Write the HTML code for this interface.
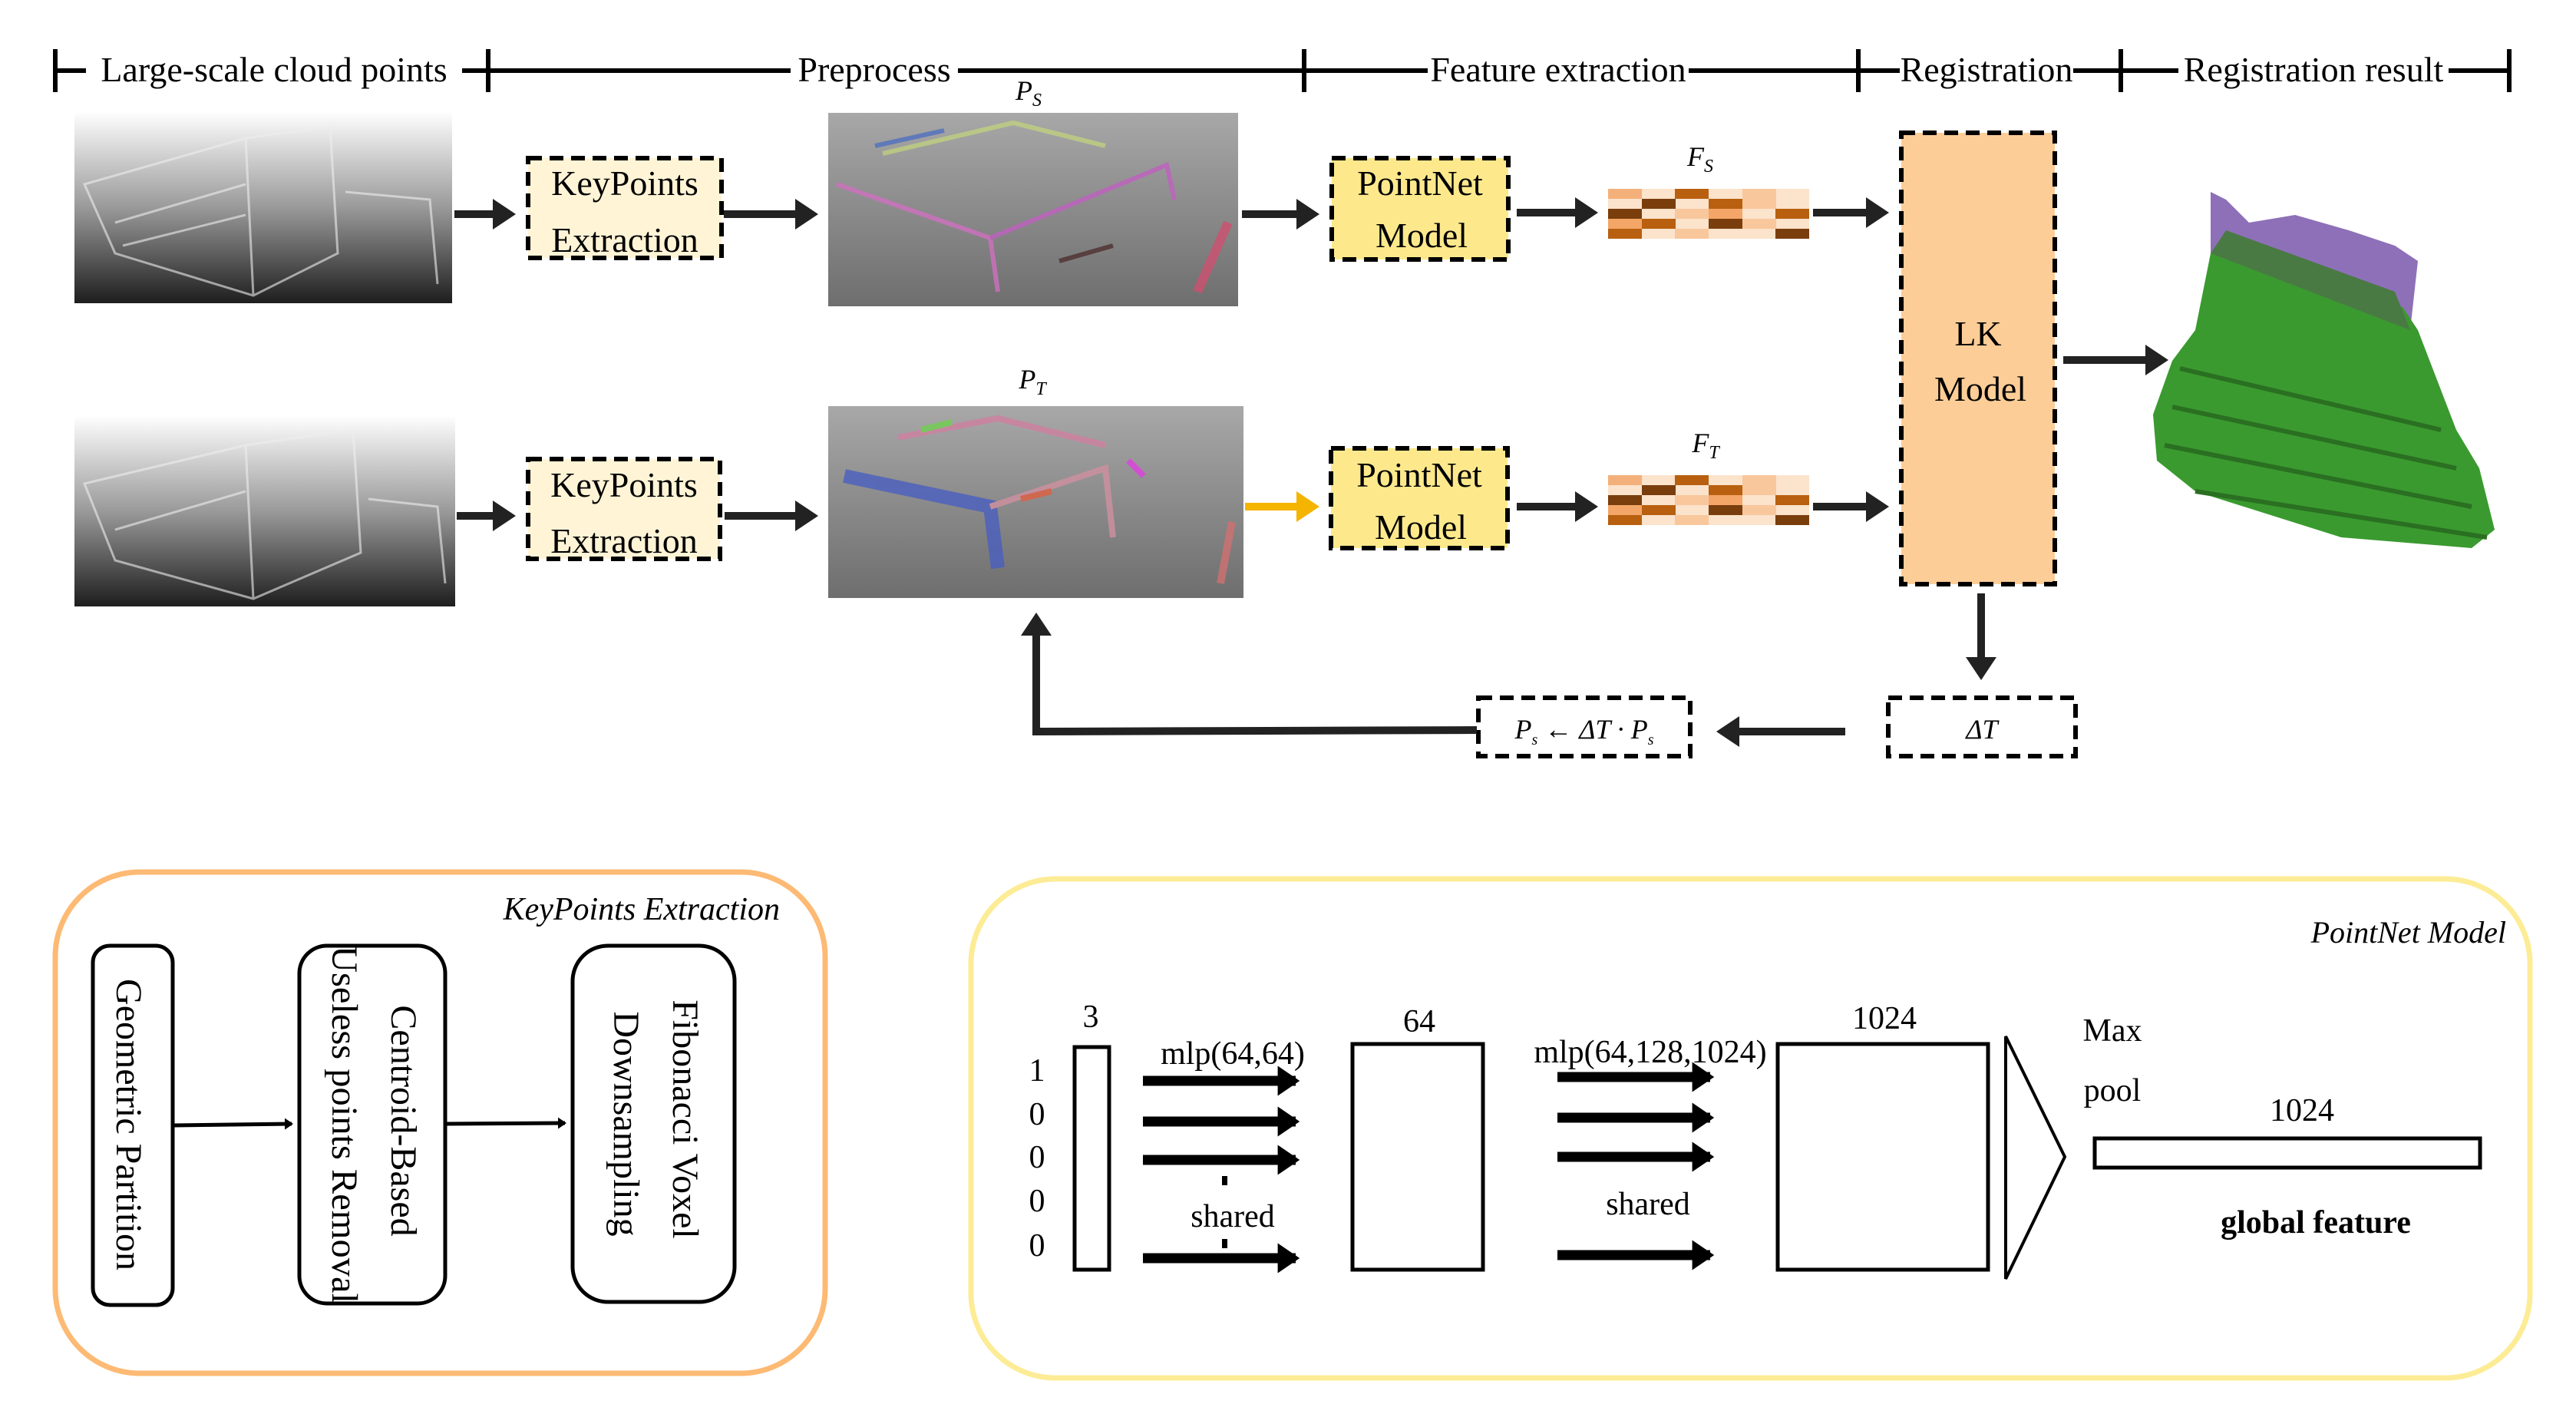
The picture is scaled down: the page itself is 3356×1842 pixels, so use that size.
<!DOCTYPE html>
<html><head><meta charset="utf-8"><style>
html,body{margin:0;padding:0;background:#fff;}
svg{display:block;}
text{font-family:"Liberation Serif","DejaVu Serif",serif;fill:#000;}
</style></head><body>
<svg width="3356" height="1842" viewBox="0 0 3356 1842" xmlns="http://www.w3.org/2000/svg" font-family="Liberation Serif, DejaVu Serif, serif">
<defs>
<linearGradient id="gray1" x1="0" y1="0" x2="0" y2="1"><stop offset="0" stop-color="#ffffff"/><stop offset="0.5" stop-color="#9a9a9a"/><stop offset="1" stop-color="#1e1e1e"/></linearGradient>
<linearGradient id="gray2" x1="0" y1="0" x2="0" y2="1"><stop offset="0" stop-color="#a8a8a8"/><stop offset="1" stop-color="#6e6e6e"/></linearGradient>
<marker id="ah" markerWidth="4" markerHeight="4" refX="2.2" refY="2" orient="auto" markerUnits="strokeWidth"><path d="M0,0 L3,2 L0,4 z" fill="#222"/></marker>
<marker id="ahy" markerWidth="4" markerHeight="4" refX="2.2" refY="2" orient="auto" markerUnits="strokeWidth"><path d="M0,0 L3,2 L0,4 z" fill="#f5b400"/></marker>
<marker id="ah2" markerWidth="3" markerHeight="3" refX="1.8" refY="1.5" orient="auto" markerUnits="strokeWidth"><path d="M0,0 L2.2,1.5 L0,3 z" fill="#000"/></marker>
<g id="hm">
<rect x="0" y="0" width="262" height="65" fill="#fbe3cc"/>
<rect x="0" y="0" width="44" height="13" fill="#f4b07a"/><rect x="87" y="0" width="44" height="13" fill="#b8600f"/><rect x="175" y="0" width="44" height="13" fill="#f9c79c"/>
<rect x="44" y="13" width="44" height="13" fill="#7a3e0d"/><rect x="131" y="13" width="44" height="13" fill="#b8600f"/><rect x="175" y="13" width="44" height="13" fill="#f9c79c"/>
<rect x="0" y="26" width="44" height="13" fill="#7a3e0d"/><rect x="87" y="26" width="44" height="13" fill="#f9c79c"/><rect x="131" y="26" width="44" height="13" fill="#f4a668"/><rect x="218" y="26" width="44" height="13" fill="#b8600f"/>
<rect x="0" y="39" width="44" height="13" fill="#f4a668"/><rect x="44" y="39" width="44" height="13" fill="#b8600f"/><rect x="131" y="39" width="44" height="13" fill="#7a3e0d"/><rect x="175" y="39" width="44" height="13" fill="#f9c79c"/>
<rect x="0" y="52" width="44" height="13" fill="#b8600f"/><rect x="87" y="52" width="44" height="13" fill="#f9c79c"/><rect x="218" y="52" width="44" height="13" fill="#7a3e0d"/>
</g>
</defs>

<!-- timeline -->
<g stroke="#000" stroke-width="6">
<line x1="72" y1="92" x2="3269" y2="92"/>
<line x1="72" y1="64" x2="72" y2="120"/><line x1="636" y1="64" x2="636" y2="120"/><line x1="1699" y1="64" x2="1699" y2="120"/>
<line x1="2421" y1="64" x2="2421" y2="120"/><line x1="2763" y1="64" x2="2763" y2="120"/><line x1="3269" y1="64" x2="3269" y2="120"/>
</g>
<g font-size="46" text-anchor="middle">
<rect x="112" y="68" width="490" height="46" fill="#fff"/><text x="357" y="106">Large-scale cloud points</text>
<rect x="1030" y="68" width="218" height="46" fill="#fff"/><text x="1139" y="106">Preprocess</text>
<rect x="1860" y="68" width="340" height="46" fill="#fff"/><text x="2030" y="106">Feature extraction</text>
<rect x="2475" y="68" width="226" height="46" fill="#fff"/><text x="2588" y="106">Registration</text>
<rect x="2838" y="68" width="352" height="46" fill="#fff"/><text x="3014" y="106">Registration result</text>
</g>

<!-- raw cloud images -->
<rect x="97" y="145" width="492" height="250" fill="url(#gray1)"/>
<g stroke="#eee" stroke-width="3" fill="none" opacity="0.6">
<path d="M110,240 L320,180 L430,165 L440,330 L330,385 L150,330 Z"/><path d="M320,180 L330,385"/><path d="M450,250 L560,260 L570,370"/>
<path d="M150,290 L320,240"/><path d="M160,320 L320,280"/>
</g>
<rect x="97" y="541" width="496" height="249" fill="url(#gray1)"/>
<g stroke="#eee" stroke-width="3" fill="none" opacity="0.6">
<path d="M110,630 L320,580 L460,560 L470,720 L330,780 L150,730 Z"/><path d="M320,580 L330,780"/><path d="M480,650 L570,660 L580,760"/>
<path d="M150,690 L320,640"/>
</g>

<!-- Ps / PT images -->
<rect x="1079" y="147" width="534" height="252" fill="url(#gray2)"/>
<g fill="none" stroke-width="6" opacity="0.8">
<path d="M1090,240 L1290,310 L1300,380" stroke="#d070c0"/>
<path d="M1290,310 L1520,215 L1530,260" stroke="#c060c0"/>
<path d="M1150,200 L1320,160 L1440,190" stroke="#c0d080"/>
<path d="M1140,190 L1230,170" stroke="#5070c0"/>
<path d="M1560,380 L1600,290" stroke="#d05070" stroke-width="12"/>
<path d="M1380,340 L1450,320" stroke="#503030"/>
</g>
<rect x="1079" y="529" width="541" height="250" fill="url(#gray2)"/>
<g fill="none" stroke-width="8" opacity="0.8">
<path d="M1100,620 L1290,660 L1300,740" stroke="#4a5fc0" stroke-width="18"/>
<path d="M1290,660 L1440,610 L1450,700" stroke="#d090a0"/>
<path d="M1170,570 L1300,545 L1440,580" stroke="#d080a0"/>
<path d="M1200,560 L1240,550" stroke="#70d050"/>
<path d="M1330,650 L1370,640" stroke="#e06040"/>
<path d="M1590,760 L1605,680" stroke="#d07070" stroke-width="10"/>
<path d="M1470,600 L1490,620" stroke="#e040e0"/>
</g>

<g font-size="36" font-style="italic" text-anchor="middle">
<text x="1340" y="130">P<tspan font-size="24" dy="8">S</tspan></text>
<text x="1345" y="506">P<tspan font-size="24" dy="8">T</tspan></text>
<text x="2215" y="216">F<tspan font-size="24" dy="8">S</tspan></text>
<text x="2222" y="589">F<tspan font-size="24" dy="8">T</tspan></text>
</g>

<!-- boxes -->
<g stroke="#000" stroke-width="6" stroke-dasharray="18 10">
<rect x="688" y="206" width="252" height="130" fill="#fff4d6"/>
<rect x="688" y="598" width="250" height="130" fill="#fff4d6"/>
<rect x="1735" y="206" width="230" height="132" fill="#fde98c"/>
<rect x="1734" y="584" width="230" height="130" fill="#fde98c"/>
<rect x="2477" y="173" width="200" height="588" fill="#fdcd97"/>
<rect x="1926" y="909" width="276" height="76" fill="#fff"/>
<rect x="2460" y="909" width="244" height="76" fill="#fff"/>
</g>
<g font-size="46" text-anchor="middle">
<text x="814" y="254">KeyPoints</text><text x="814" y="328">Extraction</text>
<text x="813" y="647">KeyPoints</text><text x="813" y="720">Extraction</text>
<text x="1850" y="254">PointNet</text><text x="1852" y="322">Model</text>
<text x="1849" y="634">PointNet</text><text x="1851" y="702">Model</text>
<text x="2577" y="450">LK</text><text x="2580" y="522">Model</text>
</g>
<g font-size="36" font-style="italic" text-anchor="middle">
<text x="2064" y="962">P<tspan font-size="20" dy="8">s</tspan><tspan dy="-8"> ← ΔT · P</tspan><tspan font-size="20" dy="8">s</tspan></text>
<text x="2582" y="962">ΔT</text>
</g>

<use href="#hm" x="2095" y="246"/>
<use href="#hm" x="2095" y="619"/>

<!-- arrows -->
<g stroke="#222" stroke-width="10" fill="none" marker-end="url(#ah)">
<line x1="592" y1="279" x2="664" y2="279"/>
<line x1="943" y1="279" x2="1058" y2="279"/>
<line x1="1618" y1="279" x2="1711" y2="279"/>
<line x1="1976" y1="277" x2="2074" y2="277"/>
<line x1="2362" y1="277" x2="2453" y2="277"/>
<line x1="595" y1="672" x2="664" y2="672"/>
<line x1="944" y1="672" x2="1058" y2="672"/>
<line x1="1976" y1="660" x2="2074" y2="660"/>
<line x1="2362" y1="660" x2="2453" y2="660"/>
<line x1="2688" y1="469" x2="2817" y2="469"/>
<line x1="2581" y1="773" x2="2581" y2="878"/>
<line x1="2404" y1="953" x2="2244" y2="953"/>
<polyline points="1924,951 1350,953 1350,806"/>
</g>
<line x1="1622" y1="660" x2="1711" y2="660" stroke="#f5b400" stroke-width="10" marker-end="url(#ahy)"/>

<!-- result cloud -->
<path d="M2880,250 L2900,260 L2930,290 L2990,280 L3060,300 L3120,320 L3150,340 L3140,430 L2880,420 Z" fill="#8e70b8"/>
<path d="M2880,330 L3130,400 L3150,430 L3200,560 L3230,610 L3250,690 L3220,714 L3050,700 L2860,640 L2810,600 L2805,540 L2830,470 L2860,430 Z" fill="#3a9a2f"/>
<path d="M2880,330 L2900,300 L3120,380 L3140,430 Z" fill="#4a7a44"/>
<g stroke="#2a6f22" stroke-width="6" fill="none">
<path d="M2840,480 L3180,560"/><path d="M2830,530 L3200,610"/><path d="M2820,580 L3220,660"/><path d="M2860,640 L3240,700"/>
</g>

<!-- KeyPoints Extraction panel -->
<rect x="72" y="1136" width="1003" height="653" rx="110" ry="110" fill="#fff" stroke="#fdba74" stroke-width="7"/>
<text x="1016" y="1198" font-size="42" font-style="italic" text-anchor="end">KeyPoints Extraction</text>
<g fill="#fff" stroke="#000" stroke-width="5">
<rect x="121" y="1232" width="104" height="468" rx="22"/>
<rect x="390" y="1232" width="190" height="466" rx="36"/>
<rect x="746" y="1232" width="211" height="464" rx="46"/>
</g>
<g stroke="#000" stroke-width="5" fill="none" marker-end="url(#ah2)">
<line x1="227" y1="1466" x2="380" y2="1464"/>
<line x1="581" y1="1464" x2="736" y2="1463"/>
</g>
<g font-size="48" text-anchor="middle">
<text transform="translate(152,1465) rotate(90)">Geometric Partition</text>
<text transform="translate(510,1460) rotate(90)">Centroid-Based</text>
<text transform="translate(433,1465) rotate(90)" textLength="466" lengthAdjust="spacingAndGlyphs">Useless points Removal</text>
<text transform="translate(877,1458) rotate(90)">Fibonacci Voxel</text>
<text transform="translate(800,1464) rotate(90)">Downsampling</text>
</g>

<!-- PointNet panel -->
<rect x="1265" y="1145" width="2031" height="650" rx="110" ry="110" fill="#fff" stroke="#fdec96" stroke-width="7"/>
<text x="3265" y="1228" font-size="40" font-style="italic" text-anchor="end">PointNet Model</text>
<g fill="#fff" stroke="#000" stroke-width="5">
<rect x="1400" y="1364" width="45" height="290"/>
<rect x="1762" y="1360" width="170" height="294"/>
<rect x="2316" y="1360" width="274" height="294"/>
<rect x="2729" y="1483" width="502" height="38"/>
</g>
<path d="M2613,1350 L2690,1507 L2613,1666 Z" fill="#fff" stroke="#000" stroke-width="4"/>
<g stroke="#000" stroke-width="13" fill="none" marker-end="url(#ah2)">
<line x1="1489" y1="1408" x2="1688" y2="1408"/><line x1="1489" y1="1461" x2="1688" y2="1461"/>
<line x1="1489" y1="1511" x2="1688" y2="1511"/><line x1="1489" y1="1639" x2="1688" y2="1639"/>
<line x1="2029" y1="1403" x2="2228" y2="1403"/><line x1="2029" y1="1456" x2="2228" y2="1456"/>
<line x1="2029" y1="1507" x2="2228" y2="1507"/><line x1="2029" y1="1635" x2="2228" y2="1635"/>
</g>
<rect x="1592" y="1532" width="7" height="12" fill="#000"/><rect x="1592" y="1614" width="7" height="12" fill="#000"/>
<g font-size="42" text-anchor="middle">
<text x="1421" y="1338">3</text>
<text x="1351" y="1408">1</text><text x="1351" y="1465">0</text><text x="1351" y="1521">0</text><text x="1351" y="1578">0</text><text x="1351" y="1636">0</text>
<text x="1606" y="1386">mlp(64,64)</text>
<text x="1606" y="1598">shared</text>
<text x="1849" y="1344">64</text>
<text x="2150" y="1384">mlp(64,128,1024)</text>
<text x="2147" y="1582">shared</text>
<text x="2455" y="1340">1024</text>
<text x="2752" y="1356">Max</text>
<text x="2752" y="1434">pool</text>
<text x="2999" y="1460">1024</text>
<text x="3017" y="1606" font-weight="bold">global feature</text>
</g>
</svg>
</body></html>
